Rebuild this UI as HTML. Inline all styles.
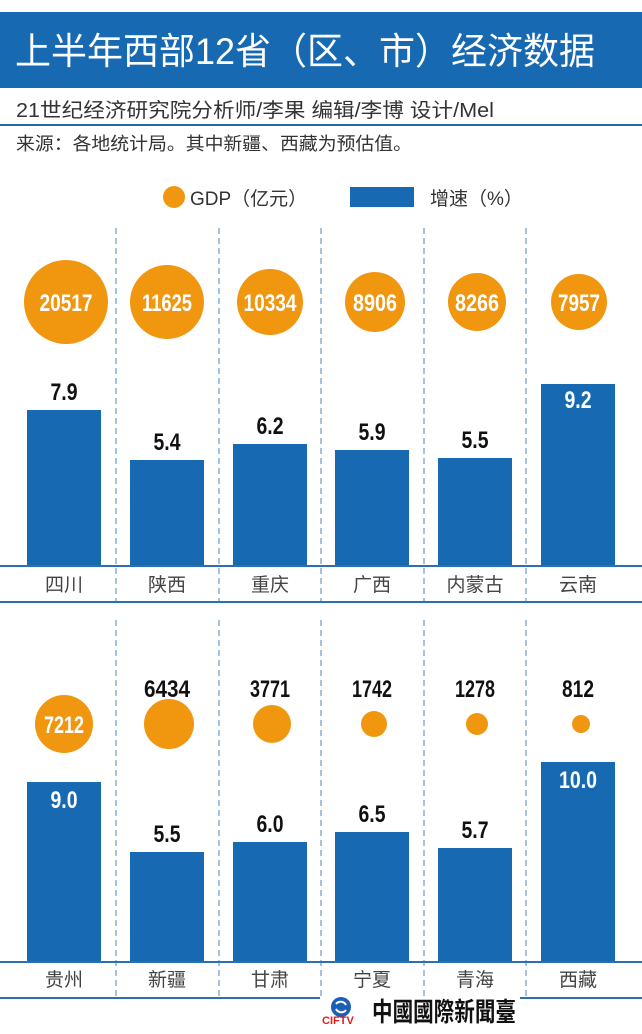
<!DOCTYPE html>
<html><head><meta charset="utf-8"><style>
html,body{margin:0;padding:0;background:#fff;}
svg{display:block;}
.cjk{font-family:"Liberation Sans","Noto Sans CJK SC",sans-serif;}
.num{font-family:"Liberation Sans Narrow","Liberation Sans",sans-serif;font-weight:bold;}
</style></head><body>
<svg width="642" height="1034" viewBox="0 0 642 1034" xmlns="http://www.w3.org/2000/svg">
<rect x="0" y="12" width="642" height="76" fill="#1769b2"/>
<text x="15" y="64" class="cjk" font-size="37" fill="#fff" textLength="580" lengthAdjust="spacingAndGlyphs">上半年西部12省（区、市）经济数据</text>
<text x="16" y="117" class="cjk" font-size="20" fill="#333" textLength="478" lengthAdjust="spacingAndGlyphs">21世纪经济研究院分析师/李果  编辑/李博  设计/Mel</text>
<rect x="0" y="124" width="642" height="2" fill="#1f6aad"/>
<text x="16" y="150" class="cjk" font-size="18" fill="#333" textLength="396" lengthAdjust="spacingAndGlyphs">来源：各地统计局。其中新疆、西藏为预估值。</text>
<circle cx="174" cy="197" r="11" fill="#f0960f"/>
<text x="190" y="205" class="cjk" font-size="19" fill="#333">GDP（亿元）</text>
<rect x="350" y="187" width="64" height="20" fill="#1769b2"/>
<text x="430" y="205" class="cjk" font-size="19" fill="#333">增速（%）</text>

<g stroke="#4f86bf" stroke-width="1" stroke-dasharray="6,4">
<line x1="116" y1="228" x2="116" y2="603"/><line x1="219" y1="228" x2="219" y2="603"/><line x1="321" y1="228" x2="321" y2="603"/><line x1="424" y1="228" x2="424" y2="603"/><line x1="526" y1="228" x2="526" y2="603"/>
<line x1="116" y1="620" x2="116" y2="999"/><line x1="219" y1="620" x2="219" y2="999"/><line x1="321" y1="620" x2="321" y2="999"/><line x1="424" y1="620" x2="424" y2="999"/><line x1="526" y1="620" x2="526" y2="999"/>
</g>

<!-- top panel -->
<g fill="#f0960f">
<circle cx="66" cy="302" r="42"/><circle cx="167" cy="302" r="37"/><circle cx="270" cy="302" r="33"/><circle cx="375" cy="302" r="30"/><circle cx="477" cy="302" r="29"/><circle cx="579" cy="302" r="28"/>
</g>
<g class="num" font-size="24" fill="#fff" text-anchor="middle" lengthAdjust="spacingAndGlyphs">
<text x="66" y="311" textLength="53" lengthAdjust="spacingAndGlyphs">20517</text><text x="167" y="311" textLength="50" lengthAdjust="spacingAndGlyphs">11625</text><text x="270" y="311" textLength="53" lengthAdjust="spacingAndGlyphs">10334</text><text x="375" y="311" textLength="44" lengthAdjust="spacingAndGlyphs">8906</text><text x="477" y="311" textLength="44" lengthAdjust="spacingAndGlyphs">8266</text><text x="579" y="311" textLength="42" lengthAdjust="spacingAndGlyphs">7957</text>
</g>
<g fill="#1769b2">
<rect x="27" y="410" width="74" height="156"/><rect x="130" y="460" width="74" height="106"/><rect x="233" y="444" width="74" height="122"/><rect x="335" y="450" width="74" height="116"/><rect x="438" y="458" width="74" height="108"/><rect x="541" y="384" width="74" height="182"/>
</g>
<g class="num" font-size="24" fill="#111" text-anchor="middle">
<text x="64" y="400" textLength="27" lengthAdjust="spacingAndGlyphs">7.9</text><text x="167" y="450" textLength="27" lengthAdjust="spacingAndGlyphs">5.4</text><text x="270" y="434" textLength="27" lengthAdjust="spacingAndGlyphs">6.2</text><text x="372" y="440" textLength="27" lengthAdjust="spacingAndGlyphs">5.9</text><text x="475" y="448" textLength="27" lengthAdjust="spacingAndGlyphs">5.5</text>
<text x="578" y="408" fill="#fff" textLength="27" lengthAdjust="spacingAndGlyphs">9.2</text>
</g>
<rect x="0" y="565" width="642" height="2" fill="#2a6fae"/>
<rect x="0" y="601" width="642" height="2" fill="#2a6fae"/>
<g class="cjk" font-size="19" fill="#444" text-anchor="middle">
<text x="64" y="591">四川</text><text x="167" y="591">陕西</text><text x="270" y="591">重庆</text><text x="372" y="591">广西</text><text x="475" y="591">内蒙古</text><text x="578" y="591">云南</text>
</g>

<!-- bottom panel -->
<g fill="#f0960f">
<circle cx="64" cy="724" r="29"/><circle cx="169" cy="724" r="25"/><circle cx="272" cy="724" r="19"/><circle cx="374" cy="724" r="13"/><circle cx="477" cy="724" r="11"/><circle cx="581" cy="724" r="9"/>
</g>
<text x="64" y="733" class="num" font-size="24" fill="#fff" text-anchor="middle" textLength="40" lengthAdjust="spacingAndGlyphs">7212</text>
<g class="num" font-size="24" fill="#111" text-anchor="middle">
<text x="167" y="697" textLength="46" lengthAdjust="spacingAndGlyphs">6434</text><text x="270" y="697" textLength="40" lengthAdjust="spacingAndGlyphs">3771</text><text x="372" y="697" textLength="40" lengthAdjust="spacingAndGlyphs">1742</text><text x="475" y="697" textLength="40" lengthAdjust="spacingAndGlyphs">1278</text><text x="578" y="697" textLength="32" lengthAdjust="spacingAndGlyphs">812</text>
</g>
<g fill="#1769b2">
<rect x="27" y="782" width="74" height="180"/><rect x="130" y="852" width="74" height="110"/><rect x="233" y="842" width="74" height="120"/><rect x="335" y="832" width="74" height="130"/><rect x="438" y="848" width="74" height="114"/><rect x="541" y="762" width="74" height="200"/>
</g>
<g class="num" font-size="24" fill="#111" text-anchor="middle">
<text x="64" y="808" fill="#fff" textLength="27" lengthAdjust="spacingAndGlyphs">9.0</text><text x="167" y="842" textLength="27" lengthAdjust="spacingAndGlyphs">5.5</text><text x="270" y="832" textLength="27" lengthAdjust="spacingAndGlyphs">6.0</text><text x="372" y="822" textLength="27" lengthAdjust="spacingAndGlyphs">6.5</text><text x="475" y="838" textLength="27" lengthAdjust="spacingAndGlyphs">5.7</text>
<text x="578" y="788" fill="#fff" textLength="38" lengthAdjust="spacingAndGlyphs">10.0</text>
</g>
<rect x="0" y="961" width="642" height="2" fill="#2a6fae"/>
<rect x="0" y="997" width="642" height="2" fill="#2a6fae"/>
<g class="cjk" font-size="19" fill="#444" text-anchor="middle">
<text x="64" y="986">贵州</text><text x="167" y="986">新疆</text><text x="270" y="986">甘肃</text><text x="372" y="986">宁夏</text><text x="475" y="986">青海</text><text x="578" y="986">西藏</text>
</g>

<!-- logo -->
<rect x="320" y="996" width="200" height="30" fill="#fff"/>
<circle cx="341" cy="1007" r="10" fill="#1c5fb8"/>
<path d="M336 1004 a6 6 0 0 1 10 1 M346 1010 a6 6 0 0 1 -10 -1" stroke="#fff" stroke-width="2" fill="none"/>
<text x="322" y="1024" font-family="Liberation Sans,sans-serif" font-weight="bold" font-size="11" fill="#e01e1e">CIFTV</text>
<text x="372" y="1021" class="cjk" font-weight="bold" font-size="26" fill="#111" textLength="144" lengthAdjust="spacingAndGlyphs">中國國際新聞臺</text>
</svg>
</body></html>
